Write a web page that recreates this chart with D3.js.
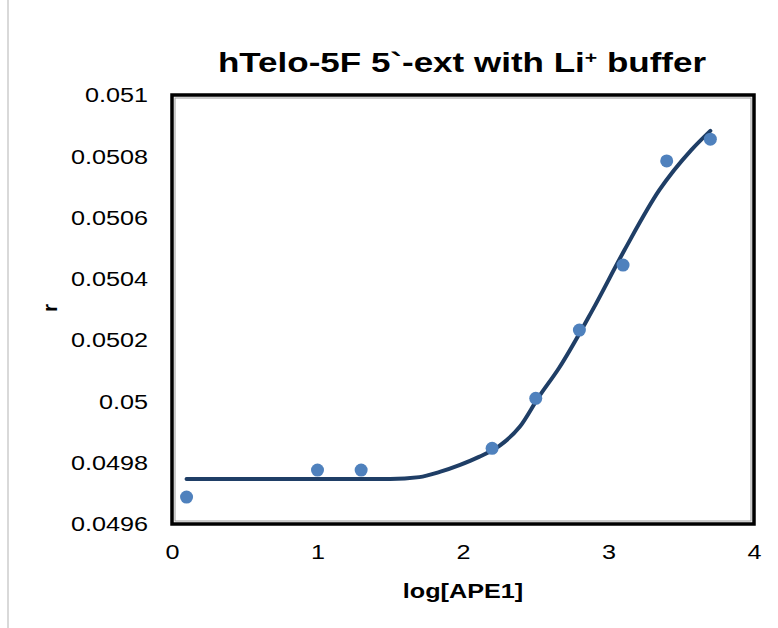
<!DOCTYPE html>
<html>
<head>
<meta charset="utf-8">
<script src="https://cdn.jsdelivr.net/npm/d3@7"></script>
<style>
    body { margin: 0; background: #fff; }
    text { font-family: "Liberation Sans", Arial, sans-serif; }
</style>
</head>
<body>
<div id="chart"></div>
<script>
// Measured points (log[APE1] vs r)
const pointX = [0.1, 1.0, 1.3, 2.2, 2.5, 2.8, 3.1, 3.4, 3.7];
const pointR = [0.049688, 0.049776, 0.049776, 0.049847, 0.050010, 0.050233, 0.050445, 0.050785, 0.050856];

// Fitted curve
const fitX = [0.1, 1.5, 1.70, 1.84, 1.98, 2.11, 2.25, 2.39, 2.52, 2.66, 2.89, 3.11, 3.35, 3.57, 3.70];
const fitR = [0.049747, 0.049747, 0.049753, 0.049770, 0.049793, 0.049819, 0.049855, 0.049917,
              0.050014, 0.050109, 0.050298, 0.050494, 0.050690, 0.050821, 0.050883];

const xTicks = [0, 1, 2, 3, 4];
const yTicks = [0.0496, 0.0498, 0.05, 0.0502, 0.0504, 0.0506, 0.0508, 0.051];

const W = 778, H = 628;
const margin = {top: 95, right: 24, bottom: 104, left: 172};
const width = W - margin.left - margin.right;
const height = H - margin.top - margin.bottom;

// the original picture is stretched sideways, so text is widened a bit
function widen(sel, s) {
    sel.each(function() {
        const t = d3.select(this);
        const x0 = +t.attr("x") || 0;
        t.attr("transform", `translate(${x0},0) scale(${s},1) translate(${-x0},0)`);
    });
}

const svg = d3.select("#chart").append("svg")
    .attr("width", W)
    .attr("height", H);

// faint outer chart frame on the left
svg.append("line")
    .attr("x1", 8).attr("x2", 8)
    .attr("y1", 0).attr("y2", H)
    .attr("stroke", "#d9d9d9")
    .attr("stroke-width", 2);

const g = svg.append("g")
    .attr("transform", `translate(${margin.left},${margin.top})`);

const x = d3.scaleLinear().domain([0, 4]).range([0, width]);
const y = d3.scaleLinear().domain([0.0496, 0.051]).range([height, 0]);

// Title
const title = svg.append("text")
    .attr("x", 462)
    .attr("y", 72)
    .attr("text-anchor", "middle")
    .style("font-size", "28px")
    .style("font-weight", "bold");
title.append("tspan").text("hTelo-5F 5`-ext with Li");
title.append("tspan")
    .attr("baseline-shift", "super")
    .style("font-size", "17px")
    .text("+");
title.append("tspan").text(" buffer");
widen(title, 1.25);

// Y axis tick labels
const yAxis = g.append("g")
    .call(d3.axisLeft(y).tickValues(yTicks).tickSize(0).tickPadding(24)
        .tickFormat(d => String(+d.toFixed(4))));
yAxis.select(".domain").remove();
yAxis.selectAll("text")
    .style("font-size", "21px")
    .attr("fill", "#000")
    .call(widen, 1.2);

// X axis tick labels
const xAxis = g.append("g")
    .attr("transform", `translate(0,${height})`)
    .call(d3.axisBottom(x).tickValues(xTicks).tickSize(0).tickPadding(20)
        .tickFormat(d3.format("d")));
xAxis.select(".domain").remove();
xAxis.selectAll("text")
    .style("font-size", "21px")
    .attr("fill", "#000")
    .call(widen, 1.2);

// Axis titles
svg.append("text")
    .attr("x", 463)
    .attr("y", 598)
    .attr("text-anchor", "middle")
    .style("font-size", "21px")
    .style("font-weight", "bold")
    .text("log[APE1]")
    .call(widen, 1.2);

svg.append("text")
    .attr("transform", "translate(57,308) rotate(-90)")
    .attr("text-anchor", "middle")
    .style("font-size", "21px")
    .style("font-weight", "bold")
    .text("r");

// Plot area border
g.append("rect")
    .attr("x", 0).attr("y", 0)
    .attr("width", width).attr("height", height)
    .attr("fill", "none")
    .attr("stroke", "#000")
    .attr("stroke-width", 3.5);
g.append("rect")
    .attr("x", 3).attr("y", 3)
    .attr("width", width - 6).attr("height", height - 6)
    .attr("fill", "none")
    .attr("stroke", "#9a9a9a")
    .attr("stroke-width", 1);

// Fitted curve
const fitData = fitX.map((d, i) => ({x: d, r: fitR[i]}));
const line = d3.line()
    .x(d => x(d.x))
    .y(d => y(d.r))
    .curve(d3.curveMonotoneX);

g.append("path")
    .datum(fitData)
    .attr("fill", "none")
    .attr("stroke", "#1f3e66")
    .attr("stroke-width", 4)
    .attr("stroke-linecap", "round")
    .attr("d", line);

// Data points
const pts = pointX.map((d, i) => ({x: d, r: pointR[i]}));
g.selectAll("circle")
    .data(pts)
    .enter().append("circle")
    .attr("cx", d => x(d.x))
    .attr("cy", d => y(d.r))
    .attr("r", 6.5)
    .attr("fill", "#4f81bd");
</script>
</body>
</html>
